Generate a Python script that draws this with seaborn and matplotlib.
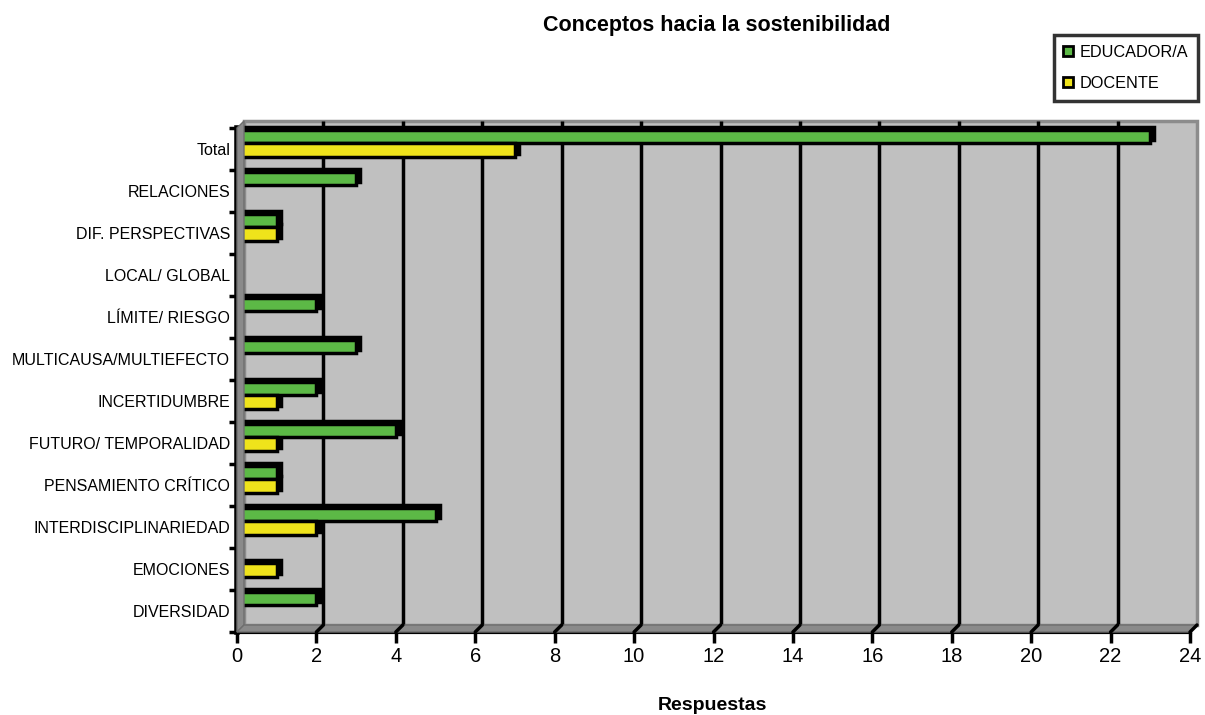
import numpy as np
import pandas as pd
import matplotlib
matplotlib.use("Agg")
import matplotlib.pyplot as plt
import seaborn as sns
from matplotlib import font_manager, transforms
from matplotlib.patches import Rectangle, Polygon
from matplotlib.lines import Line2D

# ---- data -------------------------------------------------------------
categories = ["Total", "RELACIONES", "DIF. PERSPECTIVAS", "LOCAL/ GLOBAL",
              "LÍMITE/ RIESGO", "MULTICAUSA/MULTIEFECTO", "INCERTIDUMBRE",
              "FUTURO/ TEMPORALIDAD", "PENSAMIENTO CRÍTICO",
              "INTERDISCIPLINARIEDAD", "EMOCIONES", "DIVERSIDAD"]
educador = [23, 3, 1, 0, 2, 3, 2, 4, 1, 5, 0, 2]
docente = [7, 0, 1, 0, 0, 0, 1, 1, 1, 2, 1, 0]
series_names = ["EDUCADOR/A", "DOCENTE"]
x_ticks = list(range(0, 25, 2))

title = "Conceptos hacia la sostenibilidad"
x_label = "Respuestas"

GREEN = "#5cb946"
YELLOW = "#efe31b"
WALL = "#c0c0c0"
SIDE = "#8a8a8a"

df = pd.DataFrame({
    "concepto": categories * 2,
    "respuestas": educador + docente,
    "serie": [series_names[0]] * len(categories) + [series_names[1]] * len(categories),
})

# ---- fonts ------------------------------------------------------------
sns.set_theme(style="white")
available = {f.name for f in font_manager.fontManager.ttflist}
narrow = "Liberation Sans Narrow" if "Liberation Sans Narrow" in available else "Liberation Sans"
plt.rcParams["font.family"] = [narrow, "DejaVu Sans"]
plt.rcParams["text.color"] = "black"

W, H = 1205, 715
fig = plt.figure(figsize=(W / 100, H / 100), dpi=100)
ax = fig.add_axes([237 / W, 1 - 632 / H, (1190 - 237) / W, (632 - 128) / H])
ax.set_facecolor("none")

sns.barplot(data=df, y="concepto", x="respuestas", hue="serie",
            palette=[GREEN, YELLOW], orient="h", width=0.64, saturation=1,
            edgecolor="black", linewidth=2.5, legend=False, ax=ax, zorder=3)

n = len(categories)
shift = 0.14
y_lo, y_hi = n - 0.5 + shift, -0.5 + shift
ax.set_xlim(x_ticks[0], x_ticks[-1])
ax.set_ylim(y_lo, y_hi)

depth = 7  # px of 3-D depth
back = ax.transData + transforms.ScaledTranslation(depth / 100, depth / 100, fig.dpi_scale_trans)

# back wall
ax.add_patch(Rectangle((x_ticks[0], y_hi), x_ticks[-1] - x_ticks[0], y_lo - y_hi,
                       transform=back, facecolor=WALL, edgecolor="#8c8c8c",
                       lw=2.5, zorder=0, clip_on=False))
# gridlines on the back wall
for xv in x_ticks[1:-1]:
    ax.plot([xv, xv], [y_lo, y_hi], transform=back, color="black", lw=2.5,
            zorder=1, clip_on=False, solid_capstyle="butt")

# side wall and floor as parallelograms in display space
fig.canvas.draw()
def front(x, y):
    return ax.transData.transform((x, y))
def rear(x, y):
    return back.transform((x, y))

left_wall = [front(0, y_lo), front(0, y_hi), rear(0, y_hi), rear(0, y_lo)]
floor = [front(0, y_lo), front(x_ticks[-1], y_lo), rear(x_ticks[-1], y_lo), rear(0, y_lo)]
for poly in (left_wall, floor):
    fig.patches.append(Polygon(poly, closed=True, transform=None, facecolor=SIDE,
                               edgecolor="#6e6e6e", lw=1, zorder=0.5))
# small slanted marks on the floor under each gridline
for xv in x_ticks[1:]:
    p0, p1 = front(xv, y_lo), rear(xv, y_lo)
    fig.lines.append(Line2D([p0[0], p1[0]], [p0[1], p1[1]], transform=None,
                            color="black", lw=2.5))

# depth shading on bars
for p in list(ax.patches):
    if not isinstance(p, Rectangle) or p.get_transform() is back:
        continue
    if p.get_facecolor()[:3] == matplotlib.colors.to_rgb(WALL):
        continue
    if p.get_width() <= 0:
        continue
    shade = ax.transData + transforms.ScaledTranslation(4 / 100, 3 / 100, fig.dpi_scale_trans)
    ax.add_patch(Rectangle(p.get_xy(), p.get_width(), p.get_height(),
                           transform=shade, facecolor="black", edgecolor="black",
                           lw=2.5, zorder=2.5, clip_on=False))

# axes decoration
for side in ("top", "right"):
    ax.spines[side].set_visible(False)
ax.spines["left"].set_linewidth(4)
ax.spines["bottom"].set_linewidth(3)
for side in ("left", "bottom"):
    ax.spines[side].set_color("black")
    ax.spines[side].set_zorder(4)

ax.set_yticks(np.arange(n) + shift)
ax.set_yticklabels(categories)
ax.set_yticks(np.arange(n + 1) - 0.5 + shift, minor=True)
ax.tick_params(axis="y", which="major", length=0, pad=5, labelsize=11.5, colors="black")
ax.tick_params(axis="y", which="minor", length=6, width=2.5, color="black", left=True)

ax.set_xticks(x_ticks)
ax.set_xticklabels([str(v) for v in x_ticks])
ax.tick_params(axis="x", which="major", length=8, width=2.5, color="black",
               labelsize=14.5, pad=3, bottom=True, colors="black")
ax.set_xlabel("")
ax.set_ylabel("")

fig.text(712 / W, 1 - 705 / H, x_label, ha="center", va="center",
         fontsize=14, fontweight="bold", family=["Liberation Sans", "DejaVu Sans"])
fig.text(717 / W, 1 - 26 / H, title, ha="center", va="center",
         fontsize=15.5, fontweight="bold", family=["Liberation Sans", "DejaVu Sans"])

handles = [Line2D([], [], marker="s", ls="", markerfacecolor=c, markeredgecolor="black",
                  markeredgewidth=2, markersize=7) for c in (GREEN, YELLOW)]
leg = fig.legend(handles, series_names, loc="upper right",
                 bbox_to_anchor=(1198 / W, 1 - 35 / H), frameon=True, fancybox=False,
                 fontsize=11.7, handlelength=0.6, handletextpad=0.4, labelspacing=1.0,
                 borderpad=0.6, borderaxespad=0)
leg.get_frame().set_edgecolor("black")
leg.get_frame().set_linewidth(2.5)

fig.savefig("out.png", dpi=100)
